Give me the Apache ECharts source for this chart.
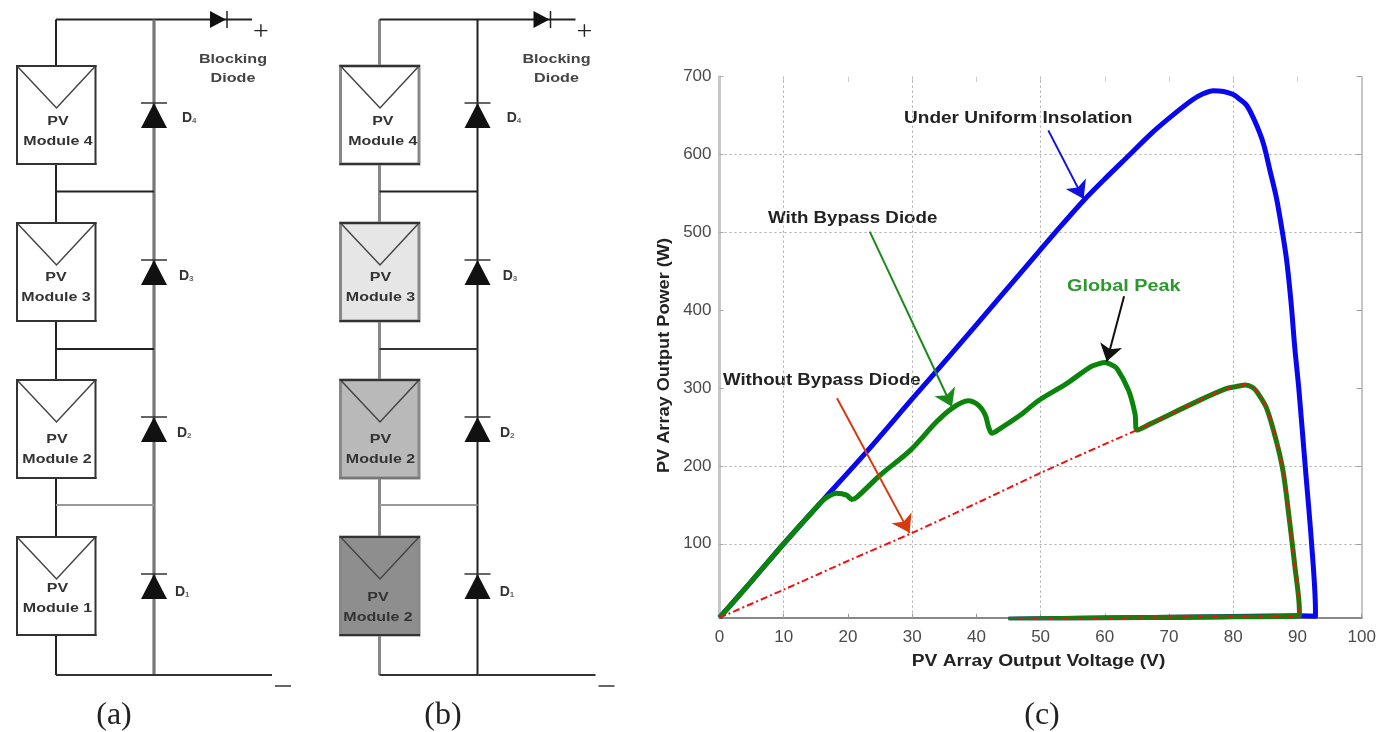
<!DOCTYPE html>
<html><head><meta charset="utf-8">
<style>html,body{margin:0;padding:0;background:#fff}#c{width:1390px;height:732px;filter:blur(0.7px)}</style>
<script src="https://cdn.jsdelivr.net/npm/echarts@6/dist/echarts.min.js"></script>
</head><body><div id="c"></div>
<script>
// ---- chart data (voltage V, power W) ----
const uniformV=[0,5,10,16,22.9,30,36,43.7,49.7,52.3,56.7,59.8,63.9,67.1,70.2,73.6,75.3,76.9,78.5,80,81,82.1,83.4,84.7,85.7,86.7,87.6,88.3,89,89.6,90.2,91.2,92.2,92.8,92.8,90,75,60,45];
const uniformP=[5,52,100,155,218,286,343,417,475,500,541,567,600,626,648,670,678,682,681,677,671,663,642,614,580,545,503,465,410,350,300,200,100,14,7,7.5,6,4.5,3];
const bypassV=[0,5,10,16,17,18.2,19.8,20.6,21.4,25,29.7,33.8,36.2,38.7,40.3,41.4,41.9,42.4,43.7,46.8,49.7,54.1,57.7,59,60,61,61.9,63.7,64.7,65,65,67.1,74.8,79,80.5,81.9,83,83.7,85.2,86.8,87.8,88.8,89.6,90.3,90.3,75,60,45];
const bypassP=[5,52,100,155,161,165,162.5,157,160,188,220,256.6,274,283.6,278,265,250,242,248,265,284,306,327,331,333,330,325,297,267,246,246,254,284.5,299.5,302,304,301,295,274,229,191,126.6,70.5,14,7.5,6,4.5,3];
const noBypassV=[0,10,20,30,40,50,60,65,65,67.1,74.8,79,80.5,81.9,83,83.7,85.2,86.8,87.8,88.8,89.6,90.3,90.3,75,60,45];
const noBypassP=[5,41,78,114,152,191,228,246,246,254,284.5,299.5,302,304,301,295,274,229,191,126.6,70.5,14,7.5,6,4.5,3];
const xTicks=[0,10,20,30,40,50,60,70,80,90,100];
const yTicks=[100,200,300,400,500,600,700];
const xGrid=[10,30,50,80];
const yGrid=[100,200,500,600];
// annotations
const arrows=[
 {from:[51.2,631],to:[56.7,543],color:'#1010e0'},
 {from:[23.4,501],to:[36.2,276],color:'#1a8a1a'},
 {from:[18.3,287],to:[29.6,114],color:'#d83a10'},
 {from:[63,418],to:[60.3,334],color:'#111'}];
const notes=[
 {text:'Under Uniform Insolation',x:904,y:119,sx:1.19,color:'#222'},
 {text:'With Bypass Diode',x:768,y:219,sx:1.17,color:'#222'},
 {text:'Without Bypass Diode',x:723,y:381,sx:1.165,color:'#222'},
 {text:'Global Peak',x:1067,y:287,sx:1.24,color:'#2a9a2a'}];
const xName='PV Array Output Voltage (V)';
const yName='PV Array Output Power (W)';
// ---- circuit diagrams ----
const panels=[
 {dx:0,bus:{c:'#777',w:3.2},left:{c:'#222',w:2},tap:['#222','#222','#999'],fills:['#fff','#fff','#fff','#fff'],edge:{c:'#333',w:2},names:['Module 4','Module 3','Module 2','Module 1'],textX:[58,56,57,57.5],dX:[182,179,177,175]},
 {dx:323.5,bus:{c:'#222',w:2},left:{c:'#888',w:3},tap:['#222','#333','#999'],fills:['#fff','#e6e6e6','#b9b9b9','#8e8e8e'],edge:{c:'#888',w:3},names:['Module 4','Module 3','Module 2','Module 2'],textX:[382.8,380.5,380.5,378],dX:[506.7,502.7,500,499.7]}];
const moduleTops=[66,223,380,537];
const textOffsets=[[55,75],[54,74],[59,79],[51,71]];
const textOffsetsB=[[55,75],[54,74],[59,79],[60,80]];
const diodeTops=[103,260,417,574];
const diodeY=[118,276,433,592];
const diodeNames=['4','3','2','1'];
const tapY=[191.5,349,505];
const captions=[['(a)',114],['(b)',443],['(c)',1042]];

const g=[];
const ln=(x1,y1,x2,y2,c,w)=>g.push({type:'line',silent:true,shape:{x1,y1,x2,y2},style:{stroke:c,lineWidth:w}});
const tx=(text,x,y,o,sx,rot)=>g.push({type:'text',silent:true,x,y,scaleX:sx||1,rotation:rot||0,style:Object.assign({text,align:'center',verticalAlign:'middle',fontFamily:'Liberation Sans',fill:'#222'},o)});
panels.forEach((p,pi)=>{
 const d=p.dx,xw=56+d,xb=154+d;
 ln(xw,19.5,xw,66,p.left.c,p.left.w);
 ln(xw,19.5,252+d,19.5,'#222',2);
 ln(xb,19.5,xb,675,p.bus.c,p.bus.w);
 moduleTops.forEach((t,i)=>{
  const next=i<3?moduleTops[i+1]:675;
  ln(xw,t+98,xw,next,p.left.c,p.left.w);
  if(i<3)ln(xw,tapY[i],xb,tapY[i],p.tap[i],2);
  g.push({type:'rect',silent:true,shape:{x:17+d,y:t,width:78.5,height:98},style:{fill:p.fills[i],stroke:p.edge.c,lineWidth:p.edge.w}});
  g.push({type:'polyline',silent:true,shape:{points:[[17+d,t],[56.5+d,t+42],[95.5+d,t]]},style:{fill:'none',stroke:'#444',lineWidth:1.5}});
  ln(16+d,t,96.5+d,t,'#333',2);
  ln(16+d,t+98,96.5+d,t+98,pi&&i==2?'#777':'#333',2);
  const off=(pi?textOffsetsB:textOffsets)[i];
  tx('PV',p.textX[i],t+off[0],{fontSize:13,fontWeight:'bold',fill:'#333'},1.23);
  tx(p.names[i],p.textX[i],t+off[1],{fontSize:13,fontWeight:'bold',fill:'#333'},1.23);
 });
 diodeTops.forEach((t,i)=>{
  g.push({type:'polygon',silent:true,shape:{points:[[xb,t],[xb+13,t+25],[xb-13,t+25]]},style:{fill:'#111'}});
  ln(xb-13,t,xb+13,t,'#333',1.5);
  g.push({type:'text',silent:true,x:p.dX[i],y:diodeY[i],style:{rich:{a:{fontSize:14,fontWeight:'bold',fill:'#333',fontFamily:'Liberation Sans'},b:{fontSize:8,fontWeight:'bold',fill:'#666',fontFamily:'Liberation Sans',verticalAlign:'bottom',padding:[6,0,0,0]}},text:'{a|D}{b|'+diodeNames[i]+'}',align:'left',verticalAlign:'middle'}});
 });
 g.push({type:'polygon',silent:true,shape:{points:[[210+d,11],[226+d,19.5],[210+d,28]]},style:{fill:'#111'}});
 ln(227+d,11,227+d,28,'#222',1.5);
 tx('+',261+d,33,{fontSize:28,fontFamily:'Liberation Serif',fill:'#222'});
 tx('Blocking',233+d,59,{fontSize:13,fontWeight:'bold',fill:'#444'},1.24);
 tx('Diode',233+d,78,{fontSize:13,fontWeight:'bold',fill:'#444'},1.24);
 ln(56+d,675,272+d,675,'#333',2);
 ln(275+d,686,291+d,686,'#333',1.5);
});
captions.forEach(c=>tx(c[0],c[1],716,{fontSize:32,fontFamily:'Liberation Serif',fill:'#222'}));
notes.forEach(n=>tx(n.text,n.x,n.y,{fontSize:16,fontWeight:'bold',fill:n.color,align:'left'},n.sx));
tx(xName,1038.5,662,{fontSize:16,fontWeight:'bold'},1.2);
tx(yName,665,355.5,{fontSize:16,fontWeight:'bold'},1.135,Math.PI/2);

const yMin=5,yMax=700;
const labelFont={fontFamily:'Liberation Sans',fontSize:17,color:'#4a4a4a'};
const grid={left:719.5,right:28.3,top:76.7,bottom:114.3};
const option={
 animation:false,
 grid,
 graphic:g,
 xAxis:[
  {type:'value',min:0,max:100,interval:10,position:'bottom',splitLine:{show:false},
   axisLine:{onZero:false,lineStyle:{color:'#888',width:2}},axisTick:{inside:true,length:4,lineStyle:{color:'#999'}},
   axisLabel:Object.assign({margin:11,customValues:xTicks},labelFont)},
  {type:'value',min:0,max:100,interval:10,position:'top',splitLine:{show:false},
   axisLine:{show:false},axisTick:{inside:true,length:5,lineStyle:{color:'#ccc'}},axisLabel:{show:false}}],
 yAxis:[
  {type:'value',min:yMin,max:yMax,position:'left',splitLine:{show:false},
   axisLine:{onZero:false,lineStyle:{color:'#c6c6c6',width:3}},
   axisTick:{inside:true,length:4,customValues:yTicks,lineStyle:{color:'#aaa'}},
   axisLabel:Object.assign({margin:8,customValues:yTicks},labelFont)},
  {type:'value',min:yMin,max:yMax,position:'right',splitLine:{show:false},
   axisLine:{onZero:false,lineStyle:{color:'#c6c6c6',width:2}},
   axisTick:{inside:true,length:5,customValues:yTicks,lineStyle:{color:'#999'}},axisLabel:{show:false}}],
 series:[
  {name:'grid',type:'line',data:[],z:1,silent:true,
   markLine:{silent:true,z:1,symbol:'none',label:{show:false},
    lineStyle:{type:[2,3],color:'#aaa',width:1},
    data:xGrid.map(v=>({xAxis:v})).concat(yGrid.map(v=>({yAxis:v})))}},
  {name:'Under Uniform Insolation',type:'line',z:3,smooth:0.3,showSymbol:false,lineStyle:{color:'#0808f0',width:5,join:'round'},data:uniformV.map((v,i)=>[v,uniformP[i]])},
  {name:'With Bypass Diode',type:'line',z:4,smooth:0.3,showSymbol:false,lineStyle:{color:'#0a840a',width:5,join:'round'},data:bypassV.map((v,i)=>[v,bypassP[i]])},
  {name:'Without Bypass Diode',type:'line',z:5,smooth:0.3,showSymbol:false,lineStyle:{color:'#f01010',width:2,type:[7,3,2,3]},data:noBypassV.map((v,i)=>[v,noBypassP[i]])},
  {name:'notes',type:'line',data:[],z:6,silent:true,
   markLine:{silent:true,z:6,symbol:['none','arrow'],symbolSize:17,label:{show:false},
    data:arrows.map(a=>[{coord:a.from,lineStyle:{color:a.color,width:2,type:'solid'},itemStyle:{color:a.color}},{coord:a.to,lineStyle:{color:a.color,width:2,type:'solid'},itemStyle:{color:a.color}}])}}
 ]
};
echarts.init(document.getElementById('c')).setOption(option);
</script></body></html>
